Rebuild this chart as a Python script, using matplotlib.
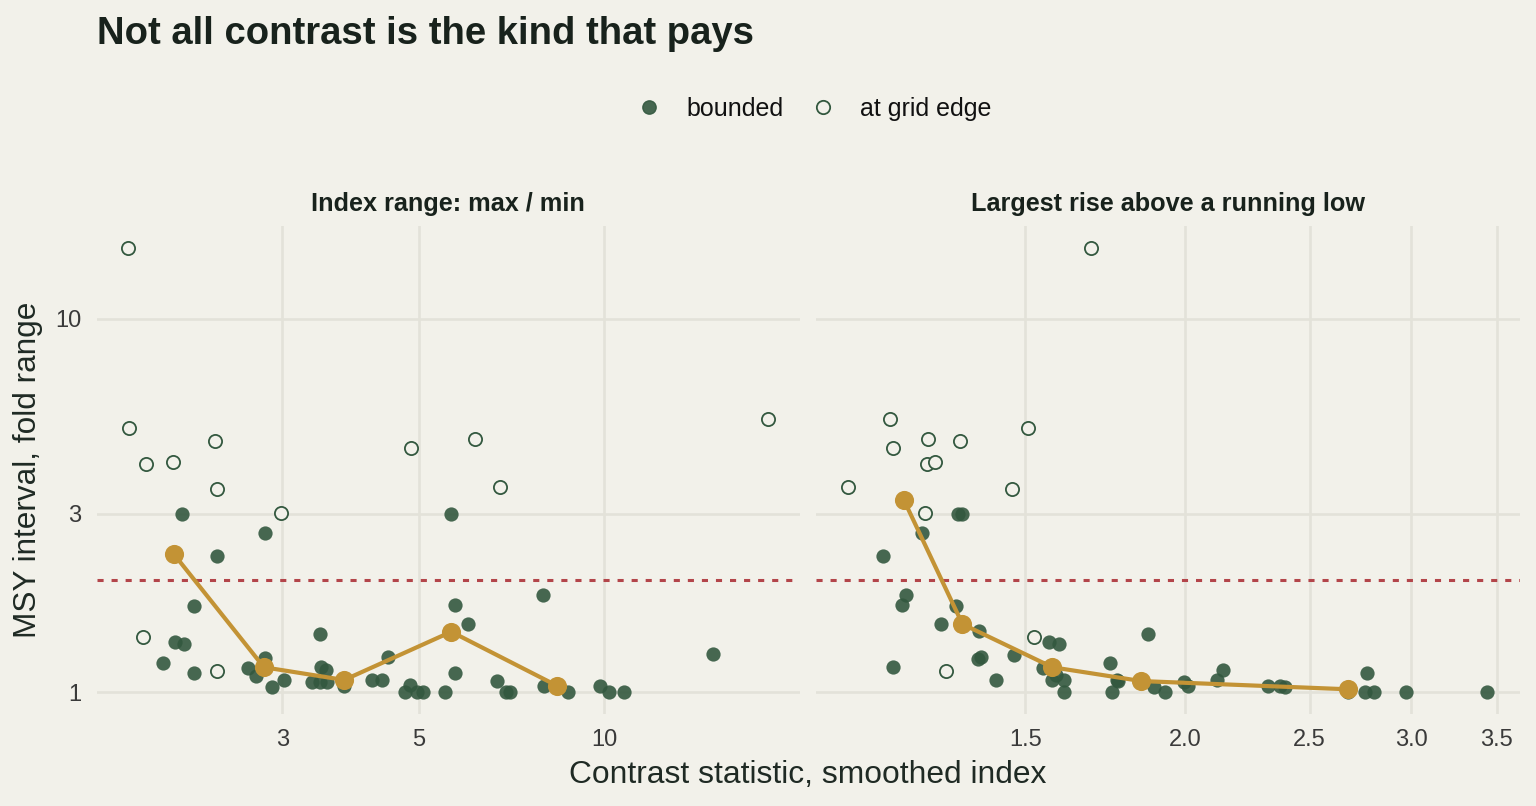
import matplotlib
matplotlib.use("Agg")
import matplotlib.pyplot as plt
from matplotlib.lines import Line2D
from matplotlib.ticker import FixedLocator, FixedFormatter, NullLocator

# data
# left panel: index range (max / min)
range_bounded_x = [2.06, 2.81, 2.35, 2.16, 2.01, 2.08, 1.92, 2.16, 2.81, 2.64, 2.72, 2.89, 3.02, 3.45,
                   3.47, 3.53, 3.35, 3.45, 3.55, 3.78, 4.46, 4.20, 4.36, 4.74, 4.84, 4.97, 5.08, 5.52,
                   5.64, 5.72, 6.01, 5.72, 7.94, 6.69, 6.92, 7.03, 7.99, 8.74, 9.83, 10.18, 10.76, 15.01]
range_bounded_y = [2.99, 2.67, 2.32, 1.70, 1.36, 1.345, 1.196, 1.124, 1.236, 1.158, 1.106, 1.033, 1.075, 1.43,
                   1.169, 1.145, 1.066, 1.066, 1.066, 1.038, 1.24, 1.077, 1.077, 1.0, 1.042, 1.0, 1.0, 1.0,
                   3.0, 1.71, 1.52, 1.122, 1.82, 1.072, 1.0, 1.0, 1.038, 1.0, 1.038, 1.0, 1.0, 1.262]
range_edge_x = [1.687, 1.691, 1.80, 1.99, 2.33, 2.35, 2.98, 4.86, 1.78, 2.35, 6.17, 6.78, 18.43]
range_edge_y = [15.44, 5.10, 4.07, 4.14, 4.71, 3.49, 3.02, 4.49, 1.40, 1.14, 4.76, 3.53, 5.40]
range_bin_x = [2.00, 2.80, 3.78, 5.64, 8.37]
range_bin_y = [2.34, 1.165, 1.077, 1.45, 1.04]

# right panel: largest rise above a running low
rise_bounded_x = [1.330, 1.340, 1.245, 1.161, 1.211, 1.201, 1.324, 1.289, 1.380, 1.183, 1.379, 1.386, 1.424,
                  1.470, 1.566, 1.594, 1.549, 1.575, 1.584, 1.608, 1.608, 1.746, 1.752, 1.768, 1.773, 1.870,
                  1.891, 1.929, 1.996, 2.009, 2.118, 2.139, 2.319, 2.37, 2.39, 2.771, 2.762, 2.808, 2.97,
                  3.44, 1.575, 2.678]
rise_bounded_y = [2.99, 2.99, 2.67, 2.32, 1.82, 1.71, 1.70, 1.52, 1.457, 1.165, 1.228, 1.241, 1.077,
                  1.259, 1.36, 1.345, 1.158, 1.077, 1.11, 1.077, 1.0, 1.196, 1.0, 1.077, 1.07, 1.43,
                  1.033, 1.0, 1.066, 1.038, 1.077, 1.145, 1.038, 1.04, 1.033, 1.122, 1.0, 1.0, 1.0,
                  1.0, 1.165, 1.0]
rise_edge_x = [1.688, 1.176, 1.182, 1.259, 1.335, 1.257, 1.275, 1.507, 1.091, 1.466, 1.252, 1.523, 1.301]
rise_edge_y = [15.44, 5.40, 4.49, 4.76, 4.71, 4.07, 4.14, 5.10, 3.53, 3.49, 3.02, 1.40, 1.14]
rise_bin_x = [1.206, 1.340, 1.575, 1.847, 2.678]
rise_bin_y = [3.27, 1.52, 1.165, 1.07, 1.017]

threshold = 2.0
y_ticks = [1, 3, 10]
range_ticks = [3, 5, 10]
rise_ticks = [1.5, 2.0, 2.5, 3.0, 3.5]

bg = "#F2F1EA"
grid = "#E3E2D9"
green = "#33583F"
gold = "#C39335"
red = "#B3454A"
ink = "#18221C"

plt.rcParams["font.family"] = ["Liberation Sans", "DejaVu Sans"]

fig = plt.figure(figsize=(15.36, 8.06), dpi=100, facecolor=bg)
W, H = 1536, 806
bottom_px, top_px = 714.2, 226
ax1 = fig.add_axes([96.7 / W, 1 - bottom_px / H, 703.3 / W, (bottom_px - top_px) / H])
ax2 = fig.add_axes([816 / W, 1 - bottom_px / H, 704 / W, (bottom_px - top_px) / H])

panels = [
    (ax1, range_bounded_x, range_bounded_y, range_edge_x, range_edge_y, range_bin_x, range_bin_y,
     range_ticks, [str(t) for t in range_ticks], (1.4988, 20.77), "Index range: max / min"),
    (ax2, rise_bounded_x, rise_bounded_y, rise_edge_x, rise_edge_y, rise_bin_x, rise_bin_y,
     rise_ticks, ["%.1f" % t for t in rise_ticks], (1.030, 3.648), "Largest rise above a running low"),
]

for ax, bx, by, ex, ey, gx, gy, ticks, labels, xlim, name in panels:
    ax.set_facecolor(bg)
    ax.set_xscale("log")
    ax.set_yscale("log")
    ax.set_xlim(*xlim)
    ax.set_ylim(10 ** -0.0594, 10 ** 1.248)
    for s in ax.spines.values():
        s.set_visible(False)
    ax.xaxis.set_major_locator(FixedLocator(ticks))
    ax.xaxis.set_major_formatter(FixedFormatter(labels))
    ax.xaxis.set_minor_locator(NullLocator())
    ax.yaxis.set_major_locator(FixedLocator(y_ticks))
    ax.yaxis.set_major_formatter(FixedFormatter([str(t) for t in y_ticks]))
    ax.yaxis.set_minor_locator(NullLocator())
    ax.grid(True, color=grid, linewidth=1.9, zorder=0)
    ax.set_axisbelow(True)
    ax.tick_params(length=0, labelsize=17, labelcolor="#3A3A3A", pad=11)

    ax.axhline(threshold, color=red, linewidth=2.2, linestyle=(0, (2.0, 2.6)), zorder=1)
    ax.scatter(bx, by, s=105, color=green, alpha=0.9, linewidths=0, zorder=2)
    ax.scatter(ex, ey, s=90, facecolors=bg, edgecolors=green, linewidths=1.3, zorder=3)
    ax.plot(gx, gy, color=gold, linewidth=3, zorder=4)
    ax.scatter(gx, gy, s=190, color=gold, linewidths=0, zorder=5)

    pos = ax.get_position()
    fig.text(pos.x0 + pos.width / 2, 1 - 210.7 / H, name, ha="center", va="baseline",
             fontsize=18.2, fontweight="bold", color=ink)

ax2.tick_params(labelleft=False)

fig.text(97 / W, 1 - 44 / H, "Not all contrast is the kind that pays", ha="left", va="baseline",
         fontsize=27.5, fontweight="bold", color=ink)
fig.text(808 / W, 1 - 783 / H, "Contrast statistic, smoothed index", ha="center", va="baseline",
         fontsize=22.9, color="#1F2A24")
fig.text(28.5 / W, 1 - 470 / H, "MSY interval, fold range", ha="center", va="center",
         rotation=90, fontsize=22.7, color="#1F2A24")

handles = [
    Line2D([], [], marker="o", linestyle="", markersize=9.6, markerfacecolor=green,
           markeredgecolor=green, alpha=0.9, label="bounded"),
    Line2D([], [], marker="o", linestyle="", markersize=9.6, markerfacecolor=bg,
           markeredgecolor=green, markeredgewidth=1.3, label="at grid edge"),
]
fig.legend(handles=handles, loc="center", bbox_to_anchor=(814 / W, 1 - 109 / H), ncol=2,
           frameon=False, fontsize=18, handlelength=1.0, handletextpad=1.0,
           columnspacing=1.05, labelcolor="#111111")

fig.savefig("out.png", dpi=100, facecolor=bg)
